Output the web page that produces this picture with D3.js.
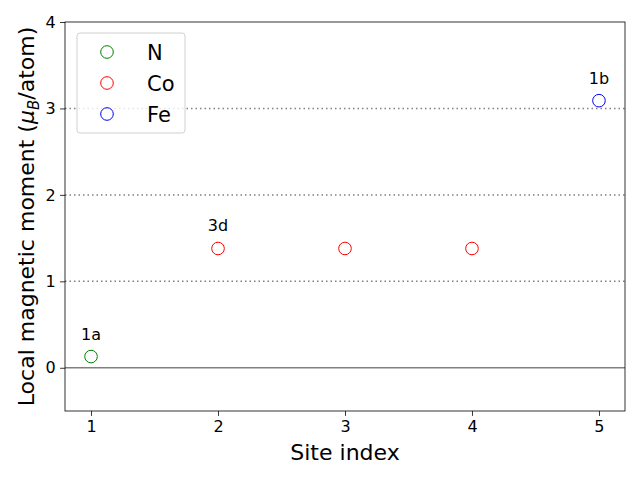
<!DOCTYPE html>
<html><head><meta charset="utf-8">
<script src="https://cdn.jsdelivr.net/npm/d3@7"></script>
<style>body{margin:0;background:#fff}text{font-family:"DejaVu Sans",sans-serif}</style>
</head><body><svg id="c" width="640" height="480"></svg>
<script>
const species = ["N", "Co", "Fe"];
const colors = ["green", "red", "blue"];
const siteIndex = [1, 2, 3, 4, 5];
const siteSpecies = ["N", "Co", "Co", "Co", "Fe"];
const moments = [0.13, 1.38, 1.38, 1.38, 3.09];
const siteLabels = ["1a", "3d", "", "", "1b"];
const xTicks = [1, 2, 3, 4, 5];
const yTicks = [0, 1, 2, 3, 4];
const gridVals = [1, 2, 3];

const svg = d3.select("#c");
const L = 65, R = 625, T = 22, B = 411;
const x = d3.scaleLinear().domain([0.795, 5.205]).range([L, R]);
const y = d3.scaleLinear().domain([-0.5, 4]).range([B, T]);
const col = d3.scaleOrdinal().domain(species).range(colors);

svg.selectAll(".grid").data(gridVals).enter().append("line")
  .attr("x1", L).attr("x2", R).attr("y1", d => y(d)).attr("y2", d => y(d))
  .attr("stroke", "#808080").attr("stroke-width", 1.5).attr("stroke-dasharray", "1.5,3");
svg.append("line").attr("x1", L).attr("x2", R).attr("y1", y(0)).attr("y2", y(0))
  .attr("stroke", "#808080").attr("stroke-width", 1.5);

const xa = svg.append("g").attr("transform", `translate(0,${B})`)
  .call(d3.axisBottom(x).tickValues(xTicks).tickFormat(d3.format("d")).tickSize(4.9).tickPadding(4.5));
const ya = svg.append("g").attr("transform", `translate(${L},0)`)
  .call(d3.axisLeft(y).tickValues(yTicks).tickFormat(d3.format("d")).tickSize(4.9).tickPadding(4.5));
[xa, ya].forEach(a => {
  a.select(".domain").remove();
  a.selectAll("text").attr("font-size", 16).attr("fill", "#000").style("font-family", "DejaVu Sans");
  a.selectAll("line").attr("stroke", "#000").attr("stroke-width", 0.8);
});
svg.append("rect").attr("x", L).attr("y", T).attr("width", R - L).attr("height", B - T)
  .attr("fill", "none").attr("stroke", "#000").attr("stroke-width", 0.8);

const pts = siteIndex.map((s, i) => ({s, sp: siteSpecies[i], m: moments[i], lab: siteLabels[i]}));
svg.selectAll(".pt").data(pts).enter().append("circle")
  .attr("cx", d => x(d.s)).attr("cy", d => y(d.m)).attr("r", 6.3)
  .attr("fill", "none").attr("stroke", d => col(d.sp)).attr("stroke-width", 1);
svg.selectAll(".lab").data(pts.filter(d => d.lab)).enter().append("text")
  .attr("x", d => x(d.s)).attr("y", d => y(d.m) - 17)
  .attr("text-anchor", "middle").attr("font-size", 16).text(d => d.lab);

svg.append("text").attr("x", (L + R) / 2).attr("y", 460).attr("text-anchor", "middle")
  .attr("font-size", 22).text("Site index");
const yl = svg.append("text").attr("transform", `translate(34,${(T + B) / 2}) rotate(-90)`)
  .attr("text-anchor", "middle").attr("font-size", 22);
yl.append("tspan").text("Local magnetic moment (");
yl.append("tspan").attr("font-style", "italic").text("μ");
yl.append("tspan").attr("font-style", "italic").attr("font-size", 15).attr("dy", 5).text("B");
yl.append("tspan").attr("dy", -5).text("/atom)");

const lg = svg.append("g");
lg.append("rect").attr("x", 77).attr("y", 33).attr("width", 108).attr("height", 100).attr("rx", 3)
  .attr("fill", "#fff").attr("fill-opacity", 0.8).attr("stroke", "#d0d0d0");
species.forEach((sp, i) => {
  const cy = 52 + i * 31;
  lg.append("circle").attr("cx", 107).attr("cy", cy).attr("r", 6.3).attr("fill", "none")
    .attr("stroke", col(sp)).attr("stroke-width", 1);
  lg.append("text").attr("x", 147).attr("y", cy + 7.5).attr("font-size", 21).text(sp);
});
</script></body></html>
